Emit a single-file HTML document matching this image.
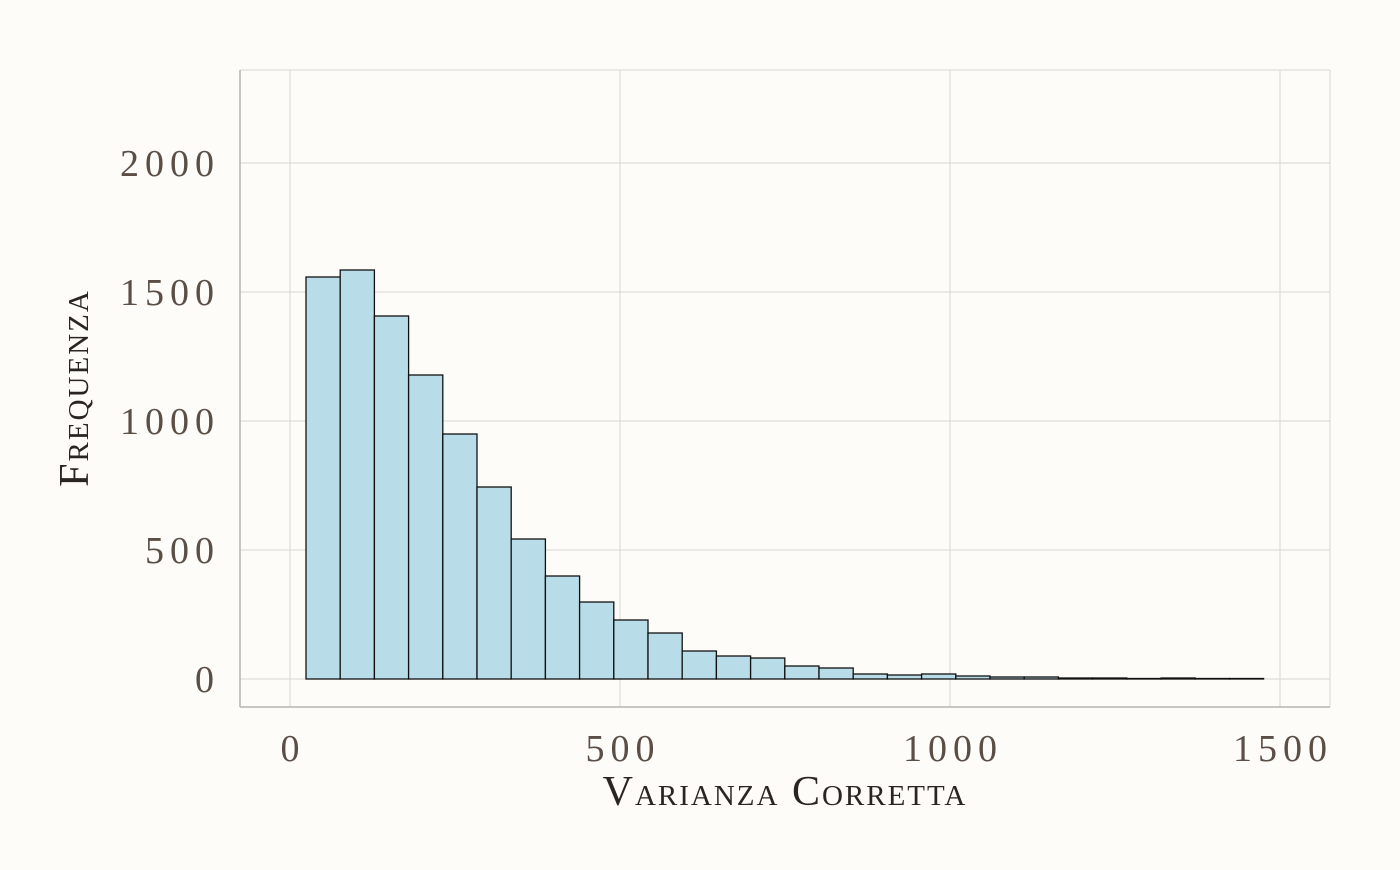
<!DOCTYPE html>
<html><head><meta charset="utf-8"><style>body{margin:0;background:#fdfcf9}</style></head>
<body>
<svg width="1400" height="865" xmlns="http://www.w3.org/2000/svg" font-family="Liberation Serif, serif">
<rect width="1400" height="865" fill="#fdfcf9"/>
<g stroke="#d8d6d2" stroke-width="1">
<line x1="240" x2="1330" y1="679" y2="679"/><line x1="240" x2="1330" y1="550" y2="550"/>
<line x1="240" x2="1330" y1="421" y2="421"/><line x1="240" x2="1330" y1="292" y2="292"/>
<line x1="240" x2="1330" y1="163" y2="163"/>
<line x1="290" x2="290" y1="70" y2="707"/><line x1="620" x2="620" y1="70" y2="707"/>
<line x1="950" x2="950" y1="70" y2="707"/><line x1="1280" x2="1280" y1="70" y2="707"/>
<line x1="240" x2="1330" y1="70" y2="70"/><line x1="1330" x2="1330" y1="70" y2="707"/>
</g>
<g stroke="#b5b3af" stroke-width="1.5"><line x1="240" x2="240" y1="70" y2="707"/><line x1="240" x2="1330" y1="707" y2="707"/></g>
<g fill="#b8dde8" stroke="#111" stroke-width="1.3">
<rect x="306" y="277" width="34.2" height="402"/>
<rect x="340.2" y="270" width="34.2" height="409"/>
<rect x="374.4" y="316" width="34.2" height="363"/>
<rect x="408.6" y="375" width="34.2" height="304"/>
<rect x="442.8" y="434" width="34.2" height="245"/>
<rect x="477" y="487" width="34.2" height="192"/>
<rect x="511.2" y="539" width="34.2" height="140"/>
<rect x="545.4" y="576" width="34.2" height="103"/>
<rect x="579.6" y="602" width="34.2" height="77"/>
<rect x="613.8" y="620" width="34.2" height="59"/>
<rect x="648" y="633" width="34.2" height="46"/>
<rect x="682.2" y="651" width="34.2" height="28"/>
<rect x="716.4" y="656" width="34.2" height="23"/>
<rect x="750.6" y="658" width="34.2" height="21"/>
<rect x="784.8" y="666" width="34.2" height="13"/>
<rect x="819" y="668" width="34.2" height="11"/>
<rect x="853.2" y="674" width="34.2" height="5"/>
<rect x="887.4" y="675" width="34.2" height="4"/>
<rect x="921.6" y="674" width="34.2" height="5"/>
<rect x="955.8" y="676" width="34.2" height="3"/>
<rect x="990" y="677" width="34.2" height="2"/>
<rect x="1024.2" y="677" width="34.2" height="2"/>
<rect x="1058.4" y="678" width="34.2" height="1"/>
<rect x="1092.6" y="678" width="34.2" height="1"/>
<rect x="1126.8" y="678.5" width="34.2" height="0.5"/>
<rect x="1161" y="678" width="34.2" height="1"/>
<rect x="1195.2" y="678.5" width="34.2" height="0.5"/>
<rect x="1229.4" y="678.5" width="34.2" height="0.5"/>
</g>
<g fill="#5a4e45" font-size="38" letter-spacing="6" text-anchor="end">
<text x="220" y="692">0</text><text x="220" y="563">500</text><text x="220" y="434">1000</text><text x="220" y="305">1500</text><text x="220" y="176">2000</text>
</g>
<g fill="#5a4e45" font-size="38" letter-spacing="6" text-anchor="middle">
<text x="293" y="761">0</text><text x="623" y="761">500</text><text x="953" y="761">1000</text><text x="1283" y="761">1500</text>
</g>
<text x="785" y="805" text-anchor="middle" font-size="42" letter-spacing="2" fill="#2a2522" style="font-variant:small-caps">Varianza Corretta</text>
<text transform="translate(88,388) rotate(-90)" text-anchor="middle" font-size="42" letter-spacing="2" fill="#2a2522" style="font-variant:small-caps">Frequenza</text>
</svg>
</body></html>
